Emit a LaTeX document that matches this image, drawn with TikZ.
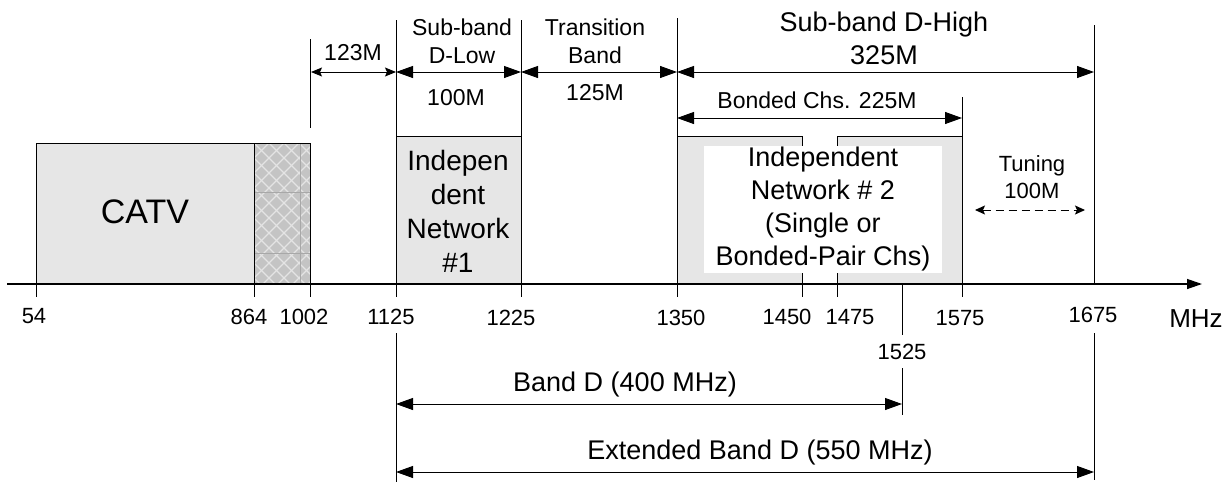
\documentclass[tikz,border=0pt]{standalone}
\usepackage{fontspec}
\setmainfont{Liberation Sans}
\usetikzlibrary{arrows.meta}
\definecolor{boxgray}{HTML}{E6E6E6}
\definecolor{hatchbg}{HTML}{C4C4C4}
\definecolor{hatchln}{HTML}{E4E4E4}
\definecolor{gridln}{HTML}{A8A8A8}
\tikzset{
  bigdim/.style={>={Triangle[length=17pt,width=12pt]}, <->, line width=1pt},
  smalldim/.style={>={Stealth[length=11pt,width=9pt,inset=2pt]}, <->, line width=1pt},
  tunedim/.style={>={Stealth[length=10pt,width=9pt,inset=2pt]}, <->, line width=1pt, dash pattern=on 8pt off 5pt},
  axisline/.style={-{Triangle[length=15pt,width=10pt]}, line width=1.3pt},
  vline/.style={line width=1pt},
  lab/.style={inner sep=0pt, font=\fontsize{22}{27}\selectfont, align=center},
  midlab/.style={inner sep=0pt, font=\fontsize{23}{28}\selectfont, align=center},
  biglab/.style={inner sep=0pt, font=\fontsize{27}{33}\selectfont, align=center},
  boxlab/.style={inner sep=0pt, font=\fontsize{28}{34}\selectfont, align=center},
  catvlab/.style={inner sep=0pt, font=\fontsize{34}{40}\selectfont},
  ticklab/.style={inner sep=0pt, font=\fontsize{22}{26}\selectfont},
}
\begin{document}
\begin{tikzpicture}[x=1pt,y=-1pt,line width=1pt]
\useasboundingbox (0,0) rectangle (1227,483);

% ---------- fills ----------
\fill[boxgray] (36,143) rectangle (254,284);
\begin{scope}
  \clip (254,143) rectangle (310,284);
  \fill[hatchbg] (254,143) rectangle (310,284);
  \foreach \k in {-150,-135,...,210} {
    \draw[hatchln, line width=1.3pt] ({\k+254},143) -- ++(150,150);
    \draw[hatchln, line width=1.3pt] ({\k+254},143) -- ++(-150,150);
  }
  \draw[gridln, line width=0.6pt] (254,192) -- (310,192);
  \draw[gridln, line width=0.6pt] (254,253) -- (310,253);
  \draw[gridln, line width=0.6pt] (300,143) -- (300,284);
\end{scope}
\fill[boxgray] (396,136) rectangle (521,284);
\fill[boxgray] (677,136) rectangle (802,284);
\fill[boxgray] (837,136) rectangle (962,284);

% ---------- box outlines ----------
\draw (36,284) -- (36,143) -- (310,143);
\draw (254,143) -- (254,297);
\draw (310,143) -- (310,297);
\draw (310,39) -- (310,128);
\draw (396,136) -- (521,136);
\draw (677,136) -- (802,136) -- (802,284);
\draw (837,284) -- (837,136) -- (962,136);
\fill[white] (704,146) rectangle (942,273);

% ---------- vertical lines and ticks ----------
\draw[vline] (36,284) -- (36,297);
\draw[vline] (396,20) -- (396,297);
\draw[vline] (521,20) -- (521,297);
\draw[vline] (677,18) -- (677,297);
\draw[vline] (802,273) -- (802,297);
\draw[vline] (837,273) -- (837,297);
\draw[vline] (962,97) -- (962,297);
\draw[vline] (1094,25) -- (1094,284);
\draw[vline] (902,284) -- (902,335);
\draw[vline] (902,368) -- (902,415);
\draw[vline] (396,333) -- (396,482);
\draw[vline] (1094,333) -- (1094,480);

% ---------- axis ----------
\coordinate (ax0) at (7,284);
\coordinate (ax1) at (1202,284);
\draw[axisline] (ax0) -- (ax1);

% ---------- dimension coordinates ----------
\coordinate (a1002) at (311,72);
\coordinate (a1125) at (396,72);
\coordinate (a1225) at (521,72);
\coordinate (a1350) at (677,72);
\coordinate (a1675) at (1094,72);
\coordinate (b1350) at (677,118);
\coordinate (b1575) at (962,118);
\coordinate (t0) at (975,210);
\coordinate (t1) at (1085,210);
\coordinate (d0) at (396,404);
\coordinate (d1) at (902,404);
\coordinate (e0) at (396,472);
\coordinate (e1) at (1094,472);

\draw[smalldim] (a1002) -- (a1125);
\draw[bigdim] (a1125) -- (a1225);
\draw[bigdim] (a1225) -- (a1350);
\draw[bigdim] (a1350) -- (a1675);
\draw[bigdim] (b1350) -- (b1575);
\draw[tunedim] (t0) -- (t1);
\draw[bigdim] (d0) -- (d1);
\draw[bigdim] (e0) -- (e1);

% ---------- labels ----------
\node[midlab] (l123) at (353,53) {123M};
\node[midlab] (lsubl) at (462,41) {Sub-band\\D-Low};
\node[midlab] (l100) at (456,98) {100M};
\node[midlab] (ltrans) at (595,41) {Transition\\Band};
\node[midlab] (l125) at (595,93) {125M};
\node[biglab] (lsubh) at (884,38) {Sub-band D-High\\325M};
\node[midlab] (lbond) at (817,100) {Bonded Chs. 225M};
\node[lab] (ltune) at (1032,177) {Tuning\\100M};
\node[biglab] (lband) at (625,385) {Band D (400 MHz)};
\node[biglab] (lext) at (760,453) {Extended Band D (550 MHz)};

\node[catvlab] (lcatv) at (145,212) {CATV};
\node[boxlab] (lnet1) at (458,211) {Indepen\\dent\\Network\\\#1};
\node[biglab] (lnet2) at (823,209) {Independent\\Network \# 2\\(Single or\\Bonded-Pair Chs)};

% ---------- tick labels ----------
\node[ticklab] (n54) at (34,316) {54};
\node[ticklab] (n864) at (249,317) {864};
\node[ticklab] (n1002) at (304,317) {1002};
\node[ticklab] (n1125) at (391,317) {1125};
\node[ticklab] (n1225) at (511,318) {1225};
\node[ticklab] (n1350) at (681,318) {1350};
\node[ticklab] (n1450) at (787,317) {1450};
\node[ticklab] (n1475) at (850,317) {1475};
\node[ticklab] (n1575) at (960,318) {1575};
\node[ticklab] (n1675) at (1093,315) {1675};
\node[ticklab] (n1525) at (902,352) {1525};
\node[inner sep=0pt, font=\fontsize{26}{30}\selectfont] (nmhz) at (1196,319) {MHz};
\end{tikzpicture}
\end{document}
